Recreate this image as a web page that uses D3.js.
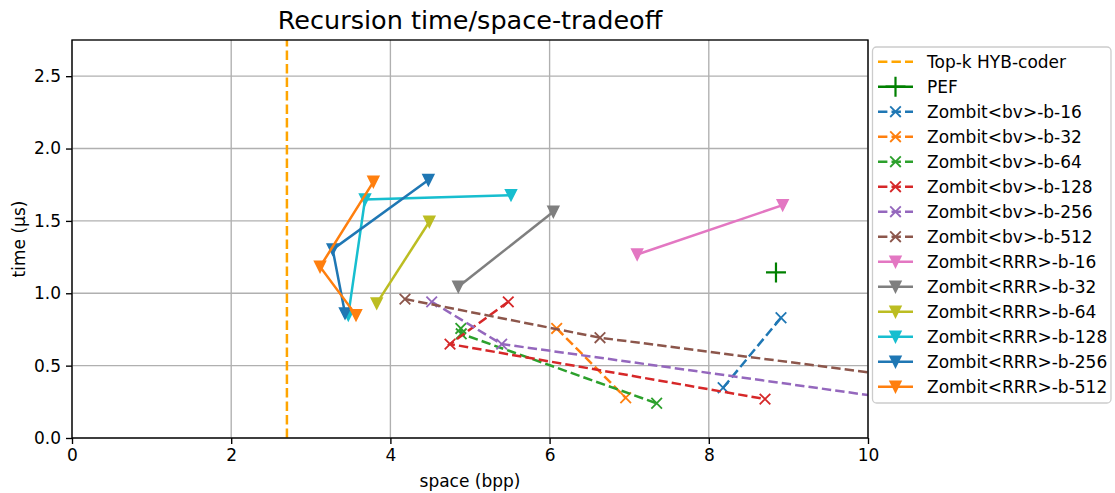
<!DOCTYPE html>
<html>
<head>
<meta charset="utf-8">
<script src="https://cdn.jsdelivr.net/npm/d3@7"></script>
<style>
  html, body { margin: 0; padding: 0; background: #fff; }
  svg { display: block; font-family: "DejaVu Sans", sans-serif; }
</style>
</head>
<body>
<svg id="chart" width="1115" height="493"></svg>
<script>
// ---- data: [space (bpp), time (µs)] per configuration ----
const topkSpace = 2.70;
const pef = [[8.844, 1.144]];

const bv16  = [[8.18, 0.347], [8.907, 0.831]];
const bv32  = [[6.089, 0.757], [6.956, 0.278]];
const bv64  = [[4.885, 0.757], [4.89, 0.72], [7.345, 0.24]];
const bv128 = [[5.481, 0.941], [4.749, 0.649], [8.706, 0.269]];
const bv256 = [[4.519, 0.941], [5.398, 0.649], [11.5, 0.182]];
const bv512 = [[4.183, 0.96], [6.633, 0.693], [12.5, 0.277]];

const rrr16  = [[7.10, 1.268], [8.928, 1.609]];
const rrr32  = [[4.853, 1.045], [6.047, 1.563]];
const rrr64  = [[3.828, 0.930], [4.489, 1.494]];
const rrr128 = [[5.515, 1.678], [3.681, 1.648], [3.471, 0.849]];
const rrr256 = [[4.477, 1.782], [3.275, 1.303], [3.43, 0.861]];
const rrr512 = [[3.786, 1.770], [3.116, 1.183], [3.568, 0.849]];

const xTicks = [0, 2, 4, 6, 8, 10];
const yTicks = [0, 0.5, 1.0, 1.5, 2.0, 2.5];

const series = [
  { name: "Zombit<bv>-b-16",   data: bv16,   color: "#1f77b4", dash: true,  marker: "x" },
  { name: "Zombit<bv>-b-32",   data: bv32,   color: "#ff7f0e", dash: true,  marker: "x" },
  { name: "Zombit<bv>-b-64",   data: bv64,   color: "#2ca02c", dash: true,  marker: "x" },
  { name: "Zombit<bv>-b-128",  data: bv128,  color: "#d62728", dash: true,  marker: "x" },
  { name: "Zombit<bv>-b-256",  data: bv256,  color: "#9467bd", dash: true,  marker: "x" },
  { name: "Zombit<bv>-b-512",  data: bv512,  color: "#8c564b", dash: true,  marker: "x" },
  { name: "Zombit<RRR>-b-16",  data: rrr16,  color: "#e377c2", dash: false, marker: "v" },
  { name: "Zombit<RRR>-b-32",  data: rrr32,  color: "#7f7f7f", dash: false, marker: "v" },
  { name: "Zombit<RRR>-b-64",  data: rrr64,  color: "#bcbd22", dash: false, marker: "v" },
  { name: "Zombit<RRR>-b-128", data: rrr128, color: "#17becf", dash: false, marker: "v" },
  { name: "Zombit<RRR>-b-256", data: rrr256, color: "#1f77b4", dash: false, marker: "v" },
  { name: "Zombit<RRR>-b-512", data: rrr512, color: "#ff7f0e", dash: false, marker: "v" }
];

// ---- layout ----
const svg = d3.select("#chart");
const plot = { left: 72, right: 868, top: 40, bottom: 438 };
const x = d3.scaleLinear().domain([0, 10]).range([plot.left, plot.right]);
const y = d3.scaleLinear().domain([0, 2.75]).range([plot.bottom, plot.top]);

const LW = 2.5;
const DASH = "9.4,4.1";
const FONT = 17;

function markerPath(type) {
  if (type === "x") {
    const s = 5.3;
    return `M${-s},${-s}L${s},${s}M${-s},${s}L${s},${-s}`;
  }
  if (type === "v") {
    const r = 5.5;
    return `M${-r},${-r}L${r},${-r}L0,${r}Z`;
  }
  if (type === "+") {
    const s = 10;
    return `M${-s},0L${s},0M0,${-s}L0,${s}`;
  }
  return "";
}

function drawMarker(g, type, color, cx, cy) {
  const p = g.append("path")
    .attr("d", markerPath(type))
    .attr("transform", `translate(${cx},${cy})`)
    .attr("stroke", color);
  if (type === "v") {
    p.attr("fill", color).attr("stroke-width", 1.5).attr("stroke-linejoin", "miter");
  } else {
    p.attr("fill", "none").attr("stroke-width", type === "+" ? 2.2 : 1.8);
  }
}

// ---- grid ----
const grid = svg.append("g").attr("stroke", "#b0b0b0").attr("stroke-width", 1.36);
grid.selectAll("line.gx").data(xTicks).join("line")
  .attr("x1", d => x(d)).attr("x2", d => x(d))
  .attr("y1", plot.top).attr("y2", plot.bottom);
grid.selectAll("line.gy").data(yTicks).join("line")
  .attr("y1", d => y(d)).attr("y2", d => y(d))
  .attr("x1", plot.left).attr("x2", plot.right);

// ---- clip ----
svg.append("clipPath").attr("id", "plotclip")
  .append("rect")
  .attr("x", plot.left).attr("y", plot.top)
  .attr("width", plot.right - plot.left).attr("height", plot.bottom - plot.top);

const data = svg.append("g").attr("clip-path", "url(#plotclip)");

// vertical reference: Top-k HYB-coder
data.append("line")
  .attr("x1", x(topkSpace)).attr("x2", x(topkSpace))
  .attr("y1", plot.bottom).attr("y2", plot.top)
  .attr("stroke", "#ffa500").attr("stroke-width", LW)
  .attr("stroke-dasharray", DASH);

// PEF
pef.forEach(p => drawMarker(data, "+", "#008000", x(p[0]), y(p[1])));

const line = d3.line().x(d => x(d[0])).y(d => y(d[1]));

series.forEach(s => {
  const g = data.append("g");
  g.append("path")
    .attr("d", line(s.data))
    .attr("fill", "none")
    .attr("stroke", s.color)
    .attr("stroke-width", LW)
    .attr("stroke-dasharray", s.dash ? DASH : null);
  s.data.forEach(p => drawMarker(g, s.marker, s.color, x(p[0]), y(p[1])));
});

// ---- axes ----
const xAxis = d3.axisBottom(x).tickValues(xTicks).tickFormat(d3.format("d")).tickSizeOuter(0).tickSize(6).tickPadding(5);
const yAxis = d3.axisLeft(y).tickValues(yTicks).tickFormat(d3.format(".1f")).tickSizeOuter(0).tickSize(6).tickPadding(5);

const gx = svg.append("g").attr("transform", `translate(0,${plot.bottom})`).call(xAxis);
const gy = svg.append("g").attr("transform", `translate(${plot.left},0)`).call(yAxis);
[gx, gy].forEach(g => {
  g.select(".domain").remove();
  g.selectAll(".tick line").attr("stroke", "#000").attr("stroke-width", 1.36);
  g.selectAll(".tick text").attr("fill", "#000").style("font-size", FONT + "px")
    .style("font-family", "'DejaVu Sans', sans-serif");
});

// frame
svg.append("rect")
  .attr("x", plot.left).attr("y", plot.top)
  .attr("width", plot.right - plot.left).attr("height", plot.bottom - plot.top)
  .attr("fill", "none").attr("stroke", "#000").attr("stroke-width", 1.36);

// ---- labels ----
svg.append("text")
  .attr("x", (plot.left + plot.right) / 2).attr("y", 29)
  .attr("text-anchor", "middle").style("font-size", "25.5px")
  .text("Recursion time/space-tradeoff");

svg.append("text")
  .attr("x", (plot.left + plot.right) / 2).attr("y", 487)
  .attr("text-anchor", "middle").style("font-size", FONT + "px")
  .text("space (bpp)");

svg.append("text")
  .attr("transform", `translate(25,${(plot.top + plot.bottom) / 2}) rotate(-90)`)
  .attr("text-anchor", "middle").style("font-size", FONT + "px")
  .text("time (µs)");

// ---- legend ----
const legendItems = [
  { name: "Top-k HYB-coder", color: "#ffa500", dash: true, marker: null },
  { name: "PEF", color: "#008000", dash: false, marker: "+" }
].concat(series);

const lg = svg.append("g");
lg.append("rect")
  .attr("x", 872.5).attr("y", 47).attr("width", 238.5).attr("height", 356)
  .attr("rx", 4).attr("fill", "#fff").attr("fill-opacity", 0.8)
  .attr("stroke", "#cccccc").attr("stroke-width", 1.3);

legendItems.forEach((it, i) => {
  const cy = 61.7 + i * 25;
  lg.append("line")
    .attr("x1", 878).attr("x2", 913).attr("y1", cy).attr("y2", cy)
    .attr("stroke", it.color).attr("stroke-width", LW)
    .attr("stroke-dasharray", it.dash ? DASH : null);
  if (it.marker) drawMarker(lg, it.marker, it.color, 895.5, cy);
  lg.append("text")
    .attr("x", 927).attr("y", cy).attr("dy", "0.36em")
    .style("font-size", FONT + "px")
    .text(it.name);
});
</script>
</body>
</html>
